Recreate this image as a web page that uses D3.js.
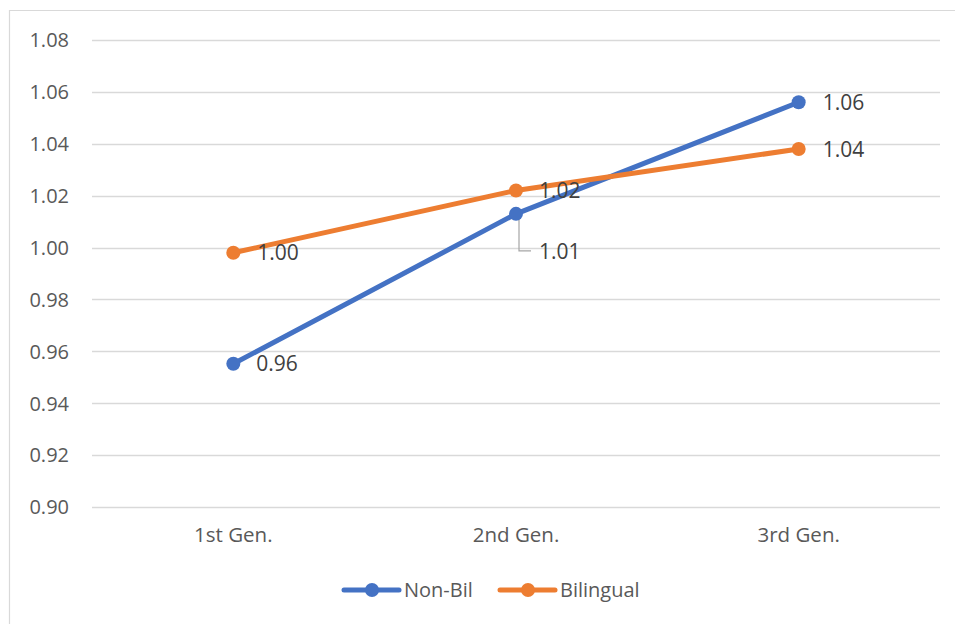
<!DOCTYPE html>
<html>
<head>
<meta charset="utf-8">
<script src="https://cdn.jsdelivr.net/npm/d3@7"></script>
<style>
  html, body { margin: 0; padding: 0; background: #fff; }
  svg { display: block; font-family: "Open Sans", "Liberation Sans", sans-serif; }
</style>
</head>
<body>
<svg id="chart" width="955" height="624"></svg>
<script>
// Generations on the x axis
const categories = ["1st Gen.", "2nd Gen.", "3rd Gen."];
// Series values
const nonBil = [0.9552, 1.013, 1.056];
const bilingual = [0.998, 1.022, 1.038];
const seriesNames = ["Non-Bil", "Bilingual"];
const seriesColors = ["#4472C4", "#ED7D31"];
// Y axis ticks
const yTicks = [0.90, 0.92, 0.94, 0.96, 0.98, 1.00, 1.02, 1.04, 1.06, 1.08];

const svg = d3.select("#chart");
const W = 955, H = 624;

// chart frame
svg.append("path")
  .attr("d", `M${W + 2},10.5 H9.5 V${H + 2}`)
  .attr("fill", "none")
  .attr("stroke", "#d9d9d9")
  .attr("stroke-width", 1.2);

const plot = { left: 92, right: 940, top: 40, bottom: 507 };

const x = d3.scaleBand().domain(categories).range([plot.left, plot.right]);
const y = d3.scaleLinear().domain([0.90, 1.08]).range([plot.bottom, plot.top]);

// gridlines
svg.append("g")
  .selectAll("line")
  .data(yTicks)
  .join("line")
  .attr("x1", plot.left).attr("x2", plot.right)
  .attr("y1", d => Math.round(y(d)) + 0.5).attr("y2", d => Math.round(y(d)) + 0.5)
  .attr("stroke", "#d9d9d9").attr("stroke-width", 1.3);

// y axis labels
const yAxis = d3.axisLeft(y).tickValues(yTicks).tickFormat(d3.format(".2f")).tickSize(0).tickPadding(0);
const gy = svg.append("g").attr("transform", `translate(69,0)`).call(yAxis);
gy.select(".domain").remove();
gy.selectAll("text")
  .attr("fill", "#595959")
  .attr("font-size", 20)
  .attr("font-family", "Open Sans, sans-serif")
  .attr("dy", "0.34em");

// x axis labels
const xAxis = d3.axisBottom(x).tickSize(0).tickPadding(0);
const gx = svg.append("g").attr("transform", `translate(0,${plot.bottom + 20})`).call(xAxis);
gx.select(".domain").remove();
gx.selectAll("text")
  .attr("fill", "#595959")
  .attr("font-size", 20.5)
  .attr("font-family", "Open Sans, sans-serif")
  .attr("dy", "0.71em");

const cx = c => x(c) + x.bandwidth() / 2;
const series = [nonBil, bilingual];
const line = d3.line().x((d, i) => cx(categories[i])).y(d => y(d));

// leader line for the 2nd Gen. Non-Bil label
svg.append("path")
  .attr("d", `M${cx(categories[1]) + 3},${y(nonBil[1])} V${y(nonBil[1]) + 37} H${cx(categories[1]) + 15}`)
  .attr("fill", "none").attr("stroke", "#a6a6a6").attr("stroke-width", 1.2);

series.forEach((vals, s) => {
  const g = svg.append("g");
  g.append("path")
    .datum(vals)
    .attr("d", line)
    .attr("fill", "none")
    .attr("stroke", seriesColors[s])
    .attr("stroke-width", 5)
    .attr("stroke-linecap", "round")
    .attr("stroke-linejoin", "round");
  g.selectAll("circle")
    .data(vals)
    .join("circle")
    .attr("cx", (d, i) => cx(categories[i]))
    .attr("cy", d => y(d))
    .attr("r", 7)
    .attr("fill", seriesColors[s]);
});

// data labels
const fmt = d3.format(".2f");
const labelOffsets = [
  [[23, 0], [23, 38], [24, 0]],
  [[24, 0], [23, 0], [24, 0]]
];
series.forEach((vals, s) => {
  svg.append("g")
    .selectAll("text")
    .data(vals)
    .join("text")
    .attr("x", (d, i) => cx(categories[i]) + labelOffsets[s][i][0])
    .attr("y", (d, i) => y(d) + labelOffsets[s][i][1])
    .attr("dy", "0.36em")
    .attr("fill", "#404040")
    .attr("font-size", 21)
    .attr("font-family", "Open Sans, sans-serif")
    .text(d => fmt(d));
});

// legend
const legendY = 590;
const legendItems = [
  { x0: 344, name: seriesNames[0], color: seriesColors[0] },
  { x0: 500, name: seriesNames[1], color: seriesColors[1] }
];
const lg = svg.append("g");
legendItems.forEach(it => {
  lg.append("line")
    .attr("x1", it.x0).attr("x2", it.x0 + 55)
    .attr("y1", legendY).attr("y2", legendY)
    .attr("stroke", it.color).attr("stroke-width", 5).attr("stroke-linecap", "round");
  lg.append("circle")
    .attr("cx", it.x0 + 28).attr("cy", legendY).attr("r", 7).attr("fill", it.color);
  lg.append("text")
    .attr("x", it.x0 + 60).attr("y", legendY).attr("dy", "0.35em")
    .attr("fill", "#595959").attr("font-size", 20)
    .attr("font-family", "Open Sans, sans-serif")
    .text(it.name);
});
</script>
</body>
</html>
